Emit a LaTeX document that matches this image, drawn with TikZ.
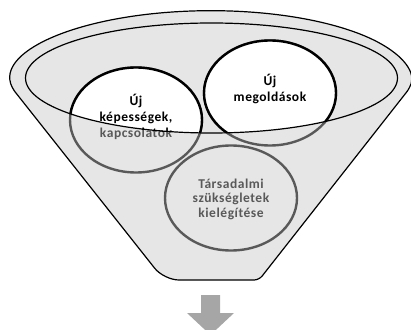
\documentclass[tikz,border=0pt]{standalone}
\usepackage{fontspec}
\setmainfont{Carlito}
\usepackage{tikz}
\usetikzlibrary{shapes.geometric}

\definecolor{funnelfill}{HTML}{E6E6E6}
\definecolor{ringgray}{HTML}{595959}
\definecolor{arrowgray}{HTML}{A6A6A6}

\tikzset{
  funnel/.style={fill=funnelfill, draw=black, line width=1.2pt},
  ring/.style={ellipse, draw=ringgray, fill=funnelfill, line width=2.4pt,
    minimum width=132pt, minimum height=105pt, inner sep=0pt},
  ringtop/.style={ring, draw=black, fill=white},
  ringtext/.style={text=ringgray, align=center, inner sep=0pt,
    font=\fontsize{13.5}{16}\selectfont\bfseries\addfontfeatures{LetterSpace=4}},
  ringtexttop/.style={ringtext, text=black}
}

\begin{document}
\begin{tikzpicture}[x=1pt, y=1pt]
    \useasboundingbox (0,0) rectangle (411,329);

    % Funnel body
    \draw[funnel] (211,49) [rounded corners=15pt] -- (164,49)
        [rounded corners=5pt] -- (12,241)
        arc[start angle=186, end angle=-6, x radius=200, y radius=70]
        [rounded corners=5pt] -- (259,49) [rounded corners=15pt] -- cycle;

    % Inner rim
    \fill[funnelfill] (211.5,251) ellipse[x radius=186, y radius=55];

    % Circles, grey part (outside the rim)
    \node[ring] (skills) at (136,209) {};
    \node[ring] (solutions) at (270,236) {};
    \node[ring] (needs) at (231,131) {};
    \node[ringtext] (skillsText) at (136,212) {Új\\képességek,\\kapcsolatok};
    \node[ringtext] (solutionsText) at (270,240) {Új\\megoldások};
    \node[ringtext, font=\fontsize{13.5}{14.5}\selectfont\bfseries\addfontfeatures{LetterSpace=4}]
        (needsText) at (231,130) {Társadalmi\\szükségletek\\kielégítése};

    % Circles, part inside the rim
    \begin{scope}
        \clip (211.5,251) ellipse[x radius=186, y radius=55];
        \node[ringtop] (skillsTop) at (136,209) {};
        \node[ringtop] (solutionsTop) at (270,236) {};
        \node[ringtexttop] (skillsTopText) at (136,212) {Új\\képességek,\\kapcsolatok};
        \node[ringtexttop] (solutionsTopText) at (270,240) {Új\\megoldások};
    \end{scope}
    \draw[line width=1.2pt] (211.5,251) ellipse[x radius=186, y radius=55];

    % Output arrow
    \fill[arrowgray] (201,34) -- (220,34) -- (220,16) -- (234,16)
        -- (210.5,-6) -- (187,16) -- (201,16) -- cycle;
\end{tikzpicture}
\end{document}
